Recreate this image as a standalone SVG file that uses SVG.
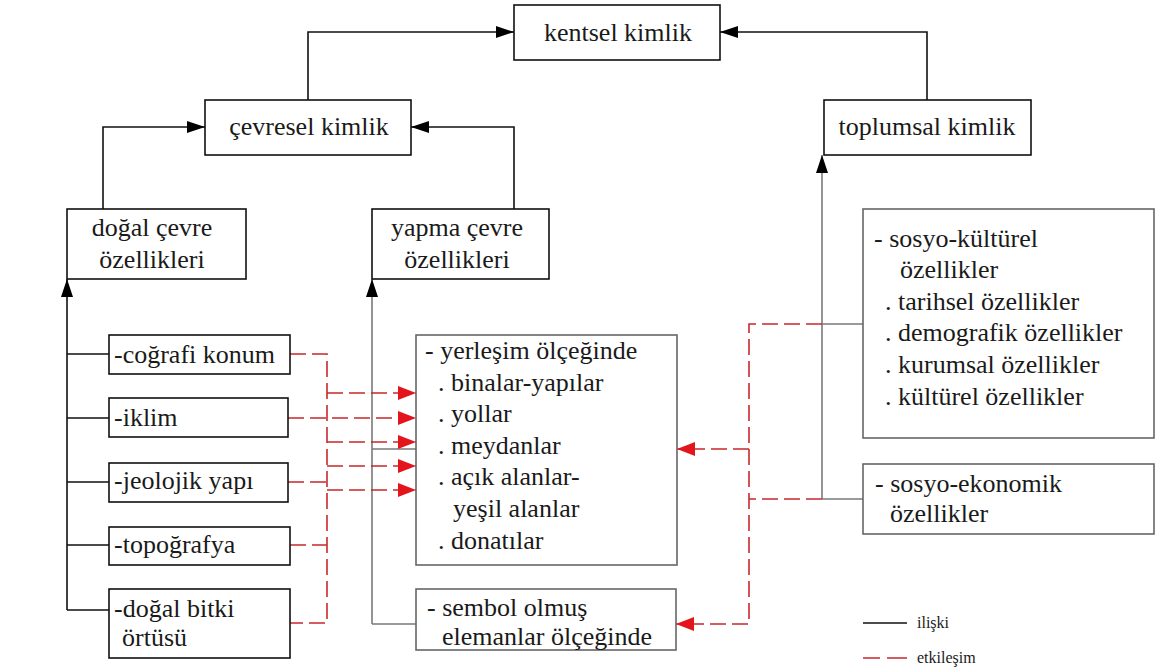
<svg xmlns="http://www.w3.org/2000/svg" width="1155" height="670" viewBox="0 0 1155 670" font-family="Liberation Serif, DejaVu Serif, Times New Roman, serif">
<style>
.bg{fill:#fff}
.box{fill:#fff;stroke:#111;stroke-width:1.6}
.box2{fill:#fff;stroke:#666;stroke-width:1.6}
.t{font-size:26px;fill:#1a1a1a}
.c{text-anchor:middle}
.lg{font-size:16px;fill:#1a1a1a}
.blk{fill:none;stroke:#111;stroke-width:1.6}
.gry{fill:none;stroke:#7a7a7a;stroke-width:1.6}
.red{fill:none;stroke:#c8282c;stroke-width:1.6;stroke-dasharray:16 6}
</style>
<defs>
<marker id="ab" markerUnits="userSpaceOnUse" markerWidth="20" markerHeight="14" viewBox="0 0 20 14" refX="18" refY="7" orient="auto">
<path d="M0,1 L18,7 L0,13 Z" fill="#000"/>
</marker>
<marker id="ar" markerUnits="userSpaceOnUse" markerWidth="20" markerHeight="16" viewBox="0 0 20 16" refX="18" refY="8" orient="auto">
<path d="M0,1 L18,8 L0,15 Z" fill="#e3141c"/>
</marker>
</defs>
<rect class="bg" x="0" y="0" width="1155" height="670"/>

<g id="connectors">
<path class="blk" d="M308,100 V32 H514" marker-end="url(#ab)"/>
<path class="blk" d="M927,100 V32 H720" marker-end="url(#ab)"/>
<path class="blk" d="M103,209 V127 H205" marker-end="url(#ab)"/>
<path class="blk" d="M514,209 V127 H411" marker-end="url(#ab)"/>
<path class="blk" d="M67,610 V279" marker-end="url(#ab)"/>
<path class="blk" d="M67,354 H109 M67,418 H109 M67,482 H109 M67,545 H109 M67,610 H109"/>
<path class="gry" d="M372,624 V279" marker-end="url(#ab)"/>
<path class="gry" d="M372,449 H416 M372,624 H416"/>
<path class="gry" d="M822,499 V155" marker-end="url(#ab)"/>
<path class="gry" d="M822,324 H863 M822,499 H863"/>
<path class="red" d="M290,354 H327 V623 H290"/>
<path class="red" d="M288,482 H327 M290,545 H327"/>
<path class="red" d="M288,418 H416" marker-end="url(#ar)"/>
<path class="red" d="M327,393 H416" marker-end="url(#ar)"/>
<path class="red" d="M327,442 H416" marker-end="url(#ar)"/>
<path class="red" d="M327,466 H416" marker-end="url(#ar)"/>
<path class="red" d="M327,490 H416" marker-end="url(#ar)"/>
<path class="red" d="M822,324 H749 V624 H676" marker-end="url(#ar)"/>
<path class="red" d="M822,499 H749"/>
<path class="red" d="M749,449 H677" marker-end="url(#ar)"/>
</g>

<g id="kentsel">
<rect class="box" x="514" y="5" width="206" height="55"/>
<text class="t c" x="618" y="41">kentsel kimlik</text>
</g>
<g id="cevresel">
<rect class="box" x="205" y="100" width="206" height="55"/>
<text class="t c" x="309" y="135">çevresel kimlik</text>
</g>
<g id="toplumsal">
<rect class="box" x="824" y="100" width="207" height="55"/>
<text class="t c" x="927" y="135">toplumsal kimlik</text>
</g>
<g id="dogal">
<rect class="box" x="67" y="209" width="179" height="70"/>
<text class="t c" x="152" y="236">doğal çevre</text>
<text class="t c" x="152" y="268">özellikleri</text>
</g>
<g id="yapma">
<rect class="box" x="372" y="209" width="177" height="70"/>
<text class="t c" x="457" y="236">yapma çevre</text>
<text class="t c" x="457" y="268">özellikleri</text>
</g>
<g id="cografi">
<rect class="box" x="109" y="335" width="181" height="39"/>
<text class="t" x="114" y="363">-coğrafi konum</text>
</g>
<g id="iklim">
<rect class="box" x="109" y="398" width="179" height="39"/>
<text class="t" x="114" y="426">-iklim</text>
</g>
<g id="jeolojik">
<rect class="box" x="109" y="463" width="179" height="39"/>
<text class="t" x="114" y="489">-jeolojik yapı</text>
</g>
<g id="topografya">
<rect class="box" x="109" y="527" width="181" height="38"/>
<text class="t" x="114" y="553">-topoğrafya</text>
</g>
<g id="bitki">
<rect class="box" x="109" y="589" width="181" height="69"/>
<text class="t" x="114" y="617">-doğal bitki</text>
<text class="t" x="122" y="646">örtüsü</text>
</g>
<g id="yerlesim">
<rect class="box2" x="416" y="335" width="261" height="230"/>
<text class="t" x="425" y="359">- yerleşim ölçeğinde</text>
<text class="t" x="438" y="391">. binalar-yapılar</text>
<text class="t" x="438" y="422">. yollar</text>
<text class="t" x="438" y="454">. meydanlar</text>
<text class="t" x="438" y="485">. açık alanlar-</text>
<text class="t" x="453" y="517">yeşil alanlar</text>
<text class="t" x="438" y="549">. donatılar</text>
</g>
<g id="sembol">
<rect class="box2" x="416" y="589" width="260" height="61"/>
<text class="t" x="427" y="616">- sembol olmuş</text>
<text class="t" x="442" y="645">elemanlar ölçeğinde</text>
</g>
<g id="sosyokulturel">
<rect class="box2" x="863" y="209" width="291" height="229"/>
<text class="t" x="874" y="247">- sosyo-kültürel</text>
<text class="t" x="900" y="278">özellikler</text>
<text class="t" x="885" y="310">. tarihsel özellikler</text>
<text class="t" x="885" y="341">. demografik özellikler</text>
<text class="t" x="885" y="373">. kurumsal özellikler</text>
<text class="t" x="885" y="405">. kültürel özellikler</text>
</g>
<g id="sosyoekonomik">
<rect class="box2" x="863" y="464" width="291" height="70"/>
<text class="t" x="875" y="492">- sosyo-ekonomik</text>
<text class="t" x="890" y="522">özellikler</text>
</g>
<g id="legend">
<path class="blk" d="M863,623 H907"/>
<text class="lg" x="917" y="628">ilişki</text>
<path class="red" d="M863,658 H880 M887,658 H907" style="stroke-dasharray:none"/>
<text class="lg" x="917" y="663">etkileşim</text>
</g>
</svg>
